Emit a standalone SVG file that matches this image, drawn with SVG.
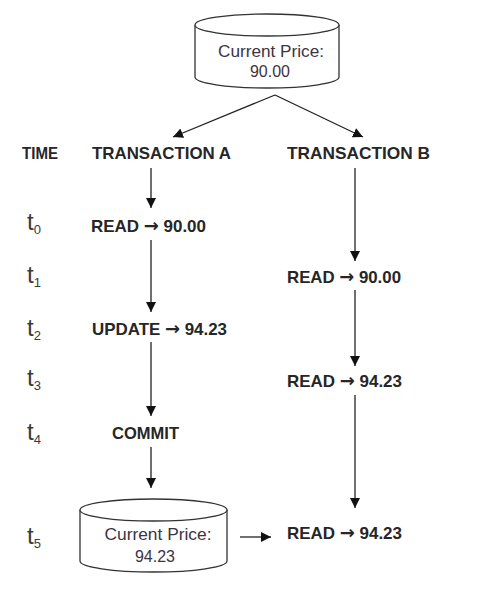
<svg xmlns="http://www.w3.org/2000/svg" width="484" height="592" viewBox="0 0 484 592">
<style>
.lbl{font-family:"Liberation Sans",Arial,sans-serif;font-weight:bold;font-size:17px;fill:#262626}
.ar{font-family:"DejaVu Sans",sans-serif;font-weight:bold;font-size:18px}
.cyl{fill:#fff;stroke:#333;stroke-width:1.3}
.ctext{font-family:"Liberation Sans",Arial,sans-serif;font-size:16px;fill:#3c3441;text-anchor:middle}
.t{font-family:"Liberation Sans",Arial,sans-serif;font-size:24px;fill:#3a3a3a}
.sub{font-size:13px}
.conn line{stroke:#222;stroke-width:1.3}
</style>
<defs>
<marker id="ah" viewBox="0 0 10 10" refX="10" refY="5" markerWidth="10" markerHeight="10" markerUnits="userSpaceOnUse" orient="auto">
<path d="M0,0 L10,5 L0,10 z" fill="#111"/>
</marker>
</defs>
<rect width="484" height="592" fill="#fff"/>

<g id="db-top">
<path class="cyl" d="M195,25 L195,77 A72,11 0 0 0 339,77 L339,25"/>
<ellipse class="cyl" cx="267" cy="25" rx="72" ry="11"/>
<text class="ctext" x="271" y="57" textLength="106" lengthAdjust="spacingAndGlyphs">Current Price:</text>
<text class="ctext" x="270" y="77">90.00</text>
</g>

<g id="headers">
<text class="lbl" x="22" y="159" textLength="36" lengthAdjust="spacingAndGlyphs">TIME</text>
<text class="lbl" x="92" y="159" textLength="139" lengthAdjust="spacingAndGlyphs">TRANSACTION A</text>
<text class="lbl" x="287" y="159" textLength="143" lengthAdjust="spacingAndGlyphs">TRANSACTION B</text>
</g>

<g id="times">
<text class="t" x="27" y="230">t<tspan class="sub" dy="4">0</tspan></text>
<text class="t" x="27" y="283">t<tspan class="sub" dy="4">1</tspan></text>
<text class="t" x="27" y="336">t<tspan class="sub" dy="4">2</tspan></text>
<text class="t" x="27" y="386">t<tspan class="sub" dy="4">3</tspan></text>
<text class="t" x="27" y="440">t<tspan class="sub" dy="4">4</tspan></text>
<text class="t" x="27" y="544">t<tspan class="sub" dy="4">5</tspan></text>
</g>

<g id="a-read">
<text class="lbl" x="91" y="232" textLength="115" lengthAdjust="spacingAndGlyphs">READ <tspan class="ar">→</tspan> 90.00</text>
</g>
<g id="a-update">
<text class="lbl" x="92" y="335" textLength="135" lengthAdjust="spacingAndGlyphs">UPDATE <tspan class="ar">→</tspan> 94.23</text>
</g>
<g id="a-commit">
<text class="lbl" x="112" y="439" textLength="67" lengthAdjust="spacingAndGlyphs">COMMIT</text>
</g>
<g id="b-read1">
<text class="lbl" x="287" y="283" textLength="114" lengthAdjust="spacingAndGlyphs">READ <tspan class="ar">→</tspan> 90.00</text>
</g>
<g id="b-read2">
<text class="lbl" x="287" y="387" textLength="115" lengthAdjust="spacingAndGlyphs">READ <tspan class="ar">→</tspan> 94.23</text>
</g>
<g id="b-read3">
<text class="lbl" x="287" y="539" textLength="115" lengthAdjust="spacingAndGlyphs">READ <tspan class="ar">→</tspan> 94.23</text>
</g>

<g id="db-bottom">
<path class="cyl" d="M80,510 L80,561 A73.5,11 0 0 0 227,561 L227,510"/>
<ellipse class="cyl" cx="153.5" cy="510" rx="73.5" ry="11"/>
<text class="ctext" x="158" y="540" textLength="107" lengthAdjust="spacingAndGlyphs">Current Price:</text>
<text class="ctext" x="155" y="562">94.23</text>
</g>

<g class="conn" id="connectors">
<line x1="275" y1="95" x2="173" y2="137" marker-end="url(#ah)"/>
<line x1="275" y1="95" x2="363" y2="137" marker-end="url(#ah)"/>
<line x1="151" y1="168" x2="151" y2="208" marker-end="url(#ah)"/>
<line x1="151" y1="240" x2="151" y2="312" marker-end="url(#ah)"/>
<line x1="151" y1="342" x2="151" y2="416" marker-end="url(#ah)"/>
<line x1="151" y1="447" x2="151" y2="488" marker-end="url(#ah)"/>
<line x1="355" y1="168" x2="355" y2="261" marker-end="url(#ah)"/>
<line x1="355" y1="290" x2="355" y2="366" marker-end="url(#ah)"/>
<line x1="355" y1="395" x2="355" y2="508" marker-end="url(#ah)"/>
<line x1="240" y1="537" x2="271" y2="537" marker-end="url(#ah)"/>
</g>
</svg>
